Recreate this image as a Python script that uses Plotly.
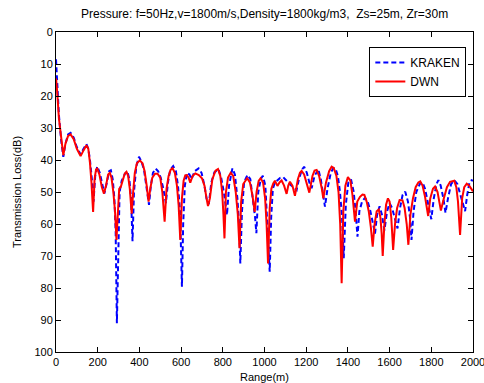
import plotly.graph_objects as go

dwn_range = [0, 5, 14, 25, 35, 45, 58, 70, 85, 100, 118, 132, 146, 155, 163, 170, 178, 185, 192, 198,
             208, 220, 230, 240, 250, 258, 266, 275, 283, 290, 296, 303, 311, 322, 330, 338, 346, 354, 363, 370,
             378, 388, 402, 415, 425, 435, 444, 452, 462, 475, 487, 500, 510, 521, 530, 540, 550, 559, 570, 580,
             588, 596, 604, 612, 620, 628, 636, 644, 655, 668, 685, 700, 712, 722, 729, 738, 750, 765, 777, 788,
             797, 803, 808, 815, 825, 838, 850, 862, 872, 880, 888, 898, 917, 930, 942, 953, 962, 972, 981, 993,
             1003, 1010, 1017, 1025, 1033, 1042, 1050, 1062, 1072, 1082, 1094, 1106, 1114, 1122, 1134, 1146, 1160, 1170, 1178, 1190,
             1205, 1215, 1230, 1240, 1250, 1262, 1275, 1282, 1295, 1310, 1322, 1332, 1345, 1355, 1363, 1370, 1378, 1388, 1400, 1412,
             1422, 1434, 1445, 1458, 1470, 1479, 1490, 1500, 1510, 1519, 1528, 1538, 1548, 1556, 1562, 1567, 1575, 1583, 1592, 1600,
             1608, 1617, 1626, 1636, 1648, 1662, 1672, 1682, 1690, 1700, 1712, 1725, 1738, 1747, 1758, 1770, 1785, 1795, 1808, 1818,
             1830, 1840, 1846, 1860, 1875, 1890, 1910, 1920, 1928, 1938, 1948, 1958, 1970, 1982, 1992, 2000]
dwn_tl = [14.5, 18, 27, 34, 38.5, 35, 32.5, 32, 33.5, 36.5, 38.8, 37, 35.4, 36.5, 41, 47, 56.2, 46, 43, 42.7,
          44.5, 48.5, 50.5, 48, 44.5, 44, 45.5, 50, 56, 65, 55, 49, 48.4, 46, 44.2, 43.7, 45, 49, 56.8, 50,
          44, 41, 40.1, 41, 43.5, 48, 53, 49, 45.5, 44.3, 44.3, 45.5, 50, 59.3, 49, 45, 43, 42.6, 44, 48,
          54, 65, 52, 46.5, 44.8, 44.7, 45.5, 47.1, 45, 44.2, 44.7, 45.7, 48, 52, 54.4, 52, 46, 43.3, 42.8, 45,
          50, 57, 64.5, 50, 45.5, 44, 45, 50, 57, 67.6, 53, 47.5, 45.7, 47, 51, 56.2, 50, 46.5, 45.7, 47,
          52, 60, 72.3, 55, 49, 47.3, 46.5, 48.1, 47, 46.4, 48, 50.6, 48, 46.8, 48, 51.2, 46, 44, 43.4, 44.5,
          48, 50.2, 45, 43.3, 43.1, 45, 49, 52, 47, 43.5, 42.1, 42.5, 45, 50, 60, 78.5, 56, 48, 45.3, 46.5,
          51, 59.3, 53, 51.5, 50.8, 50.9, 53, 56, 61, 67.1, 60, 56, 55.5, 58, 63, 70, 60, 54, 52, 53,
          58, 68.1, 60, 55, 52.5, 52.6, 55, 60, 66.5, 57, 52, 48.5, 47, 46.7, 48, 51.5, 57.5, 52, 49, 48.3,
          50, 53, 55.8, 52, 48.5, 46.8, 46.5, 48.5, 53, 63.4, 52, 48.5, 47.4, 48, 49, 49.8]

kraken_range = [0, 5, 14, 25, 35, 45, 58, 70, 85, 100, 118, 132, 146, 155, 163, 172, 180, 188, 198, 210,
                222, 232, 244, 255, 263, 272, 280, 286, 292, 298, 305, 315, 330, 342, 352, 360, 367, 374, 385, 398,
                410, 422, 432, 440, 446, 455, 465, 478, 490, 502, 515, 527, 537, 548, 562, 575, 585, 595, 600, 604,
                610, 618, 628, 640, 650, 665, 684, 698, 712, 722, 733, 745, 760, 780, 792, 805, 820, 830, 846, 858,
                870, 878, 884, 892, 902, 918, 932, 945, 955, 961, 970, 982, 992, 1004, 1012, 1020, 1025, 1032, 1040, 1050,
                1062, 1075, 1090, 1105, 1120, 1138, 1154, 1165, 1180, 1190, 1203, 1215, 1226, 1240, 1258, 1270, 1282, 1290, 1302, 1318,
                1330, 1340, 1352, 1362, 1372, 1380, 1390, 1402, 1415, 1428, 1438, 1446, 1455, 1468, 1482, 1495, 1508, 1520, 1530, 1540,
                1552, 1563, 1575, 1588, 1600, 1612, 1625, 1638, 1650, 1662, 1675, 1688, 1698, 1705, 1715, 1728, 1745, 1758, 1770, 1785,
                1800, 1812, 1825, 1834, 1845, 1858, 1868, 1880, 1895, 1910, 1925, 1940, 1952, 1962, 1972, 1983, 1993, 2000]
kraken_tl = [8.5, 14, 26, 34, 39, 35, 32, 31.5, 33, 36, 38.3, 36.5, 35, 36.5, 40, 46, 53, 45, 42, 44,
             48, 50.5, 47, 43.5, 43.2, 46, 52, 62, 91, 65, 50, 46.5, 44.4, 43.5, 46, 52, 65.4, 50, 42, 39,
             40.5, 43, 47, 51, 54, 48, 44, 42.7, 43.5, 45.5, 49, 53.5, 47, 43, 41.9, 43.5, 48, 56, 66, 79.6,
             60, 48, 44, 44.5, 46, 43.5, 42.6, 44, 48, 52, 53.8, 47, 43.8, 43, 45.5, 50, 57.2, 48, 42.6, 44.5,
             52, 60, 72.3, 56, 47, 44.7, 46, 52, 58, 62.9, 50, 46, 44.9, 48, 57, 68, 74.9, 58, 49, 47,
             46.4, 45.6, 45.4, 46.5, 47.5, 48.5, 49.4, 46, 43, 42.1, 44, 47, 48.8, 45, 42.9, 46, 52, 54.6, 49, 44,
             42.6, 42.6, 45, 50, 58, 70.7, 54, 47, 46.1, 50, 57, 64, 56, 53, 51.8, 53, 56, 60, 63, 57,
             54.5, 57, 62, 56, 53.5, 55, 58, 61.4, 55, 51, 49.9, 53, 58, 65, 56, 50, 47.5, 47, 49, 54,
             58.5, 52, 47.5, 46.3, 48, 52, 56.5, 52, 47.5, 46.3, 47.5, 51, 54, 56, 51, 47, 46.3, 46.5]

x_ticks = list(range(0, 2001, 200))
y_ticks = list(range(0, 101, 10))

FONT = "Liberation Sans, Arial, sans-serif"

fig = go.Figure()
fig.add_trace(go.Scatter(x=kraken_range, y=kraken_tl, mode="lines", name="KRAKEN",
                         line=dict(color="#0000FF", width=2, dash="5px,3px")))
fig.add_trace(go.Scatter(x=dwn_range, y=dwn_tl, mode="lines", name="DWN",
                         line=dict(color="#FF0000", width=2)))

axis_common = dict(showgrid=False, zeroline=False, showline=True, linecolor="black", linewidth=1,
                   mirror="allticks", ticks="inside", ticklen=5, tickcolor="black",
                   ticklabeloverflow="allow", automargin=False,
                   tickfont=dict(family=FONT, size=11, color="black"))

fig.update_layout(
    width=484, height=383,
    margin=dict(l=56, r=11, t=32, b=31, autoexpand=False),
    paper_bgcolor="white", plot_bgcolor="white",
    font=dict(family=FONT, color="black"),
    xaxis=dict(range=[0, 2000], tickvals=x_ticks, **axis_common),
    yaxis=dict(range=[100, 0], tickvals=y_ticks, **axis_common),
    showlegend=True,
    legend=dict(x=0.984, y=0.953, xanchor="right", yanchor="top",
                bgcolor="white", bordercolor="black", borderwidth=1,
                font=dict(family=FONT, size=12, color="black"),
                tracegroupgap=0, entrywidth=82, entrywidthmode="pixels"),
    annotations=[
        dict(text="Pressure: f=50Hz,v=1800m/s,Density=1800kg/m3,  Zs=25m, Zr=30m",
             xref="paper", yref="paper", x=0.5, y=1, yshift=18, xanchor="center", yanchor="middle",
             showarrow=False, font=dict(family=FONT, size=12, color="black")),
        dict(text="Transmission Loss(dB)", xref="paper", yref="paper", x=0, y=0.5, xshift=-39,
             xanchor="center", yanchor="middle", textangle=-90, showarrow=False,
             font=dict(family=FONT, size=11, color="black")),
        dict(text="Range(m)", xref="paper", yref="paper", x=0.5, y=0, yshift=-25,
             xanchor="center", yanchor="middle", showarrow=False,
             font=dict(family=FONT, size=11, color="black")),
    ],
)

fig.write_html("out.html")
